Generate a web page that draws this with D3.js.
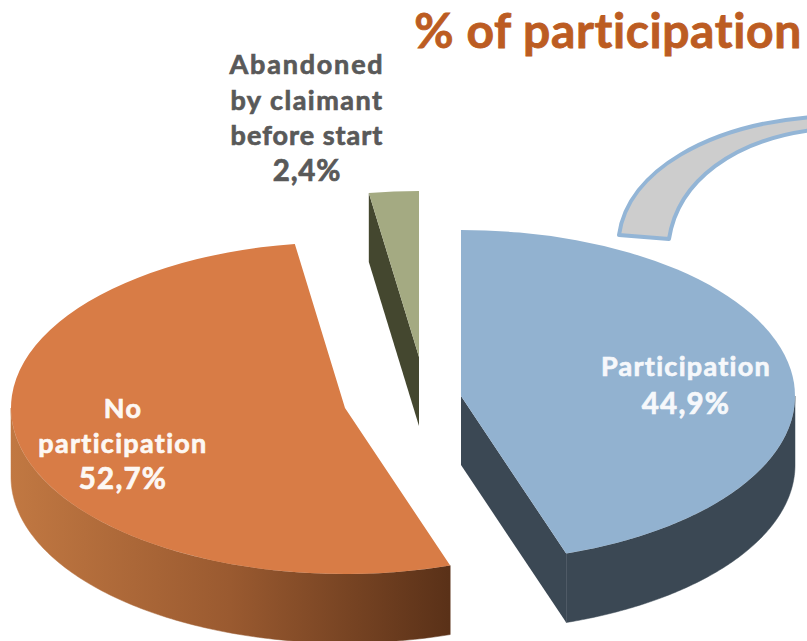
<!DOCTYPE html>
<html>
<head>
<meta charset="utf-8">
<script src="https://cdn.jsdelivr.net/npm/d3@7"></script>
<style>
html,body{margin:0;padding:0;background:#fff;overflow:hidden}
svg{display:block}
text{font-family:Lato,sans-serif;font-weight:700;text-anchor:middle;font-variant-ligatures:none}
</style>
</head>
<body>
<svg id="c" width="807" height="641"></svg>
<script>
const categories = ["Participation", "No participation", "Abandoned by claimant before start"];
const values = [44.9, 52.7, 2.4];
const valueLabels = ["44,9%", "52,7%", "2,4%"];
const titleText = "% of participation";

const W = 807, H = 641, rx = 334, ry = 166, depth = 69;
const centers = [[461, 396], [345, 408], [419, 357]];
const topColors = ["#92b2d0", "#d87c46", "#a4aa82"];
const sideColors = ["#3b4854", "url(#orangeWall)", "#44472f"];

const svg = d3.select("#c");
const defs = svg.append("defs");
const grad = defs.append("linearGradient").attr("id", "orangeWall")
  .attr("gradientUnits", "userSpaceOnUse").attr("x1", 11).attr("x2", 449).attr("y1", 0).attr("y2", 0);
grad.append("stop").attr("offset", 0).attr("stop-color", "#c17842");
grad.append("stop").attr("offset", 0.5).attr("stop-color", "#9a5a30");
grad.append("stop").attr("offset", 1).attr("stop-color", "#5a3118");

const arcs = d3.pie().sort(null).value(d => d)(values);
const arc = d3.arc().innerRadius(0).outerRadius(rx);
const x = d3.scaleLinear().domain([-1, 1]).range([-rx, rx]);
const y = d3.scaleLinear().domain([-1, 1]).range([-ry, ry]);
const rim = a => [x(Math.sin(a)), y(-Math.cos(a))];
const line = d3.line();

function wallPath(a0, a1) {
  const lo = Math.max(a0, Math.PI / 2), hi = Math.min(a1, 3 * Math.PI / 2);
  if (lo >= hi) return null;
  const pts = d3.range(0, 121).map(i => rim(lo + (hi - lo) * i / 120));
  const back = pts.slice().reverse().map(p => [p[0], p[1] + depth]);
  return line(pts.concat(back)) + "Z";
}
function facePath(a) {
  const p = rim(a);
  return line([[0, 0], p, [p[0], p[1] + depth], [0, depth]]) + "Z";
}

// drawn back to front: the small wedge, then the large ones
[2, 1, 0].forEach(i => {
  const d = arcs[i];
  const g = svg.append("g").attr("transform", `translate(${centers[i][0]},${centers[i][1]})`);
  if (i === 1) {
    // gradient runs in page units, so shift it with the slice group
    grad.attr("x1", 11 - centers[1][0]).attr("x2", 449 - centers[1][0]);
  }
  if (i === 0) g.append("path").attr("d", facePath(d.endAngle)).attr("fill", sideColors[i]);
  if (i === 2) g.append("path").attr("d", facePath(d.startAngle)).attr("fill", sideColors[i]);
  const w = wallPath(d.startAngle, d.endAngle);
  if (w) g.append("path").attr("d", w).attr("fill", sideColors[i]).attr("stroke", sideColors[i]).attr("stroke-width", 0.5);
  g.append("path")
    .attr("d", arc(d))
    .attr("transform", `scale(1,${ry / rx})`)
    .attr("fill", topColors[i]);
});

// callout arrow
svg.append("path")
  .attr("d", "M619,235 C628,170 710,125 812,117 L812,130 C735,140 678,180 669,239 Z")
  .attr("fill", "#cdcdcd").attr("stroke", "#93b5d6").attr("stroke-width", 4).attr("stroke-linejoin", "round");

svg.append("text").attr("x", 608).attr("y", 47.5).attr("fill", "#bc5c22")
  .attr("stroke", "#bc5c22").attr("stroke-width", 0.8).attr("letter-spacing", 0.6)
  .attr("font-size", 48).text(titleText);

function label(cx, lines, color) {
  lines.forEach(l => {
    svg.append("text").attr("x", cx).attr("y", l[1]).attr("fill", color)
      .attr("stroke", color).attr("stroke-width", 0.7)
      .attr("font-size", l[2]).attr("letter-spacing", l[3]).text(l[0]);
  });
}
label(307, [["Abandoned", 74, 27, 1.8], ["by claimant", 110, 27, 1.5], ["before start", 145, 27, 1.0], [valueLabels[2], 181, 29.5, 0.8]], "#595959");
label(686, [[categories[0], 376, 27, 1.3], [valueLabels[0], 414, 29.5, 1.2]], "#f6f8fb");
label(123, [["No", 418, 27, 1.4], ["participation", 453, 27, 1.3], [valueLabels[1], 489, 29.5, 1.2]], "#fdf8f4");
</script>
</body>
</html>
